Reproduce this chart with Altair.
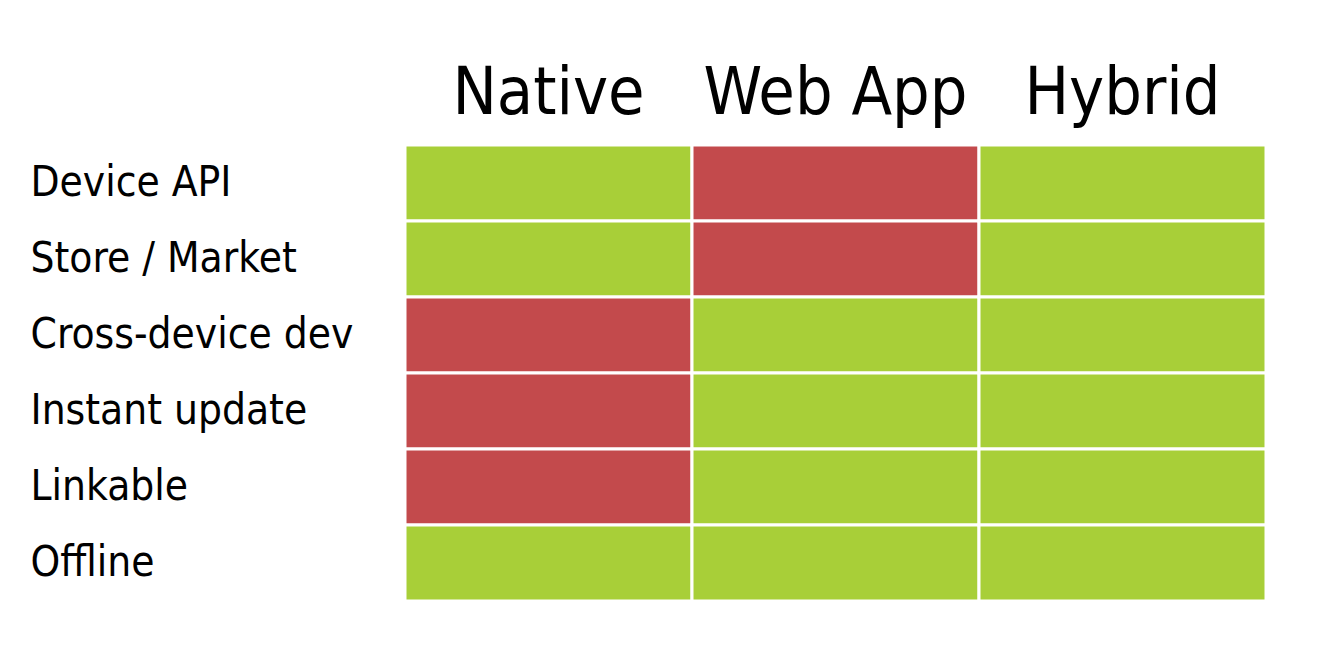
import altair as alt
import pandas as pd

features = ['Device API', 'Store / Market', 'Cross-device dev',
            'Instant update', 'Linkable', 'Offline']
approaches = ['Native', 'Web App', 'Hybrid']
native = ['yes', 'yes', 'no', 'no', 'no', 'yes']
web_app = ['no', 'no', 'yes', 'yes', 'yes', 'yes']
hybrid = ['yes', 'yes', 'yes', 'yes', 'yes', 'yes']

rows = []
for app, vals in zip(approaches, [native, web_app, hybrid]):
    for feat, v in zip(features, vals):
        rows.append({'feature': feat, 'approach': app, 'support': v})
df = pd.DataFrame(rows)

FONT = 'DejaVu Sans Condensed, Roboto Condensed, sans-serif'

chart = alt.Chart(df).mark_rect(stroke='white', strokeWidth=3).encode(
    x=alt.X('approach:N', sort=approaches, title=None,
            axis=alt.Axis(orient='top', labelFontSize=66, labelFont=FONT,
                          labelColor='black', labelPadding=18, ticks=False,
                          domain=False, labelAngle=0, labelLimit=0)),
    y=alt.Y('feature:N', sort=features, title=None,
            axis=alt.Axis(labelFontSize=42, labelFont=FONT, labelColor='black',
                          labelAlign='left', labelPadding=375, ticks=False,
                          domain=False, labelLimit=0)),
    color=alt.Color('support:N', legend=None,
                    scale=alt.Scale(domain=['yes', 'no'],
                                    range=['#A8CF38', '#C34A4C'])),
).properties(
    width=861, height=456,
    autosize=alt.AutoSizeParams(type='none'),
    padding={'left': 397, 'top': 137, 'right': 10, 'bottom': 10},
).configure_view(stroke=None)

chart.save("out.html", embed_options={"renderer": "svg", "actions": False})
